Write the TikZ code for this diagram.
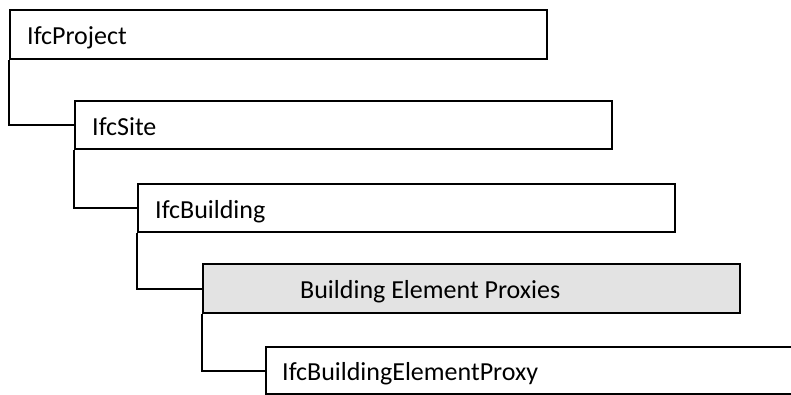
\documentclass[tikz,border=0pt]{standalone}
\usepackage{fontspec}
\setmainfont{Carlito}
\begin{document}
\begin{tikzpicture}[x=1pt,y=-1pt,
  box/.style={draw=black, line width=2.2pt, anchor=north west,
    minimum width=537pt, minimum height=48pt, inner sep=0pt, fill=white},
  lbl/.style={anchor=base west, inner sep=0pt,
    font=\fontsize{26}{30}\selectfont},
  link/.style={draw=black, line width=2.2pt}]
\useasboundingbox (0,0) rectangle (791,394);
\clip (0,0) rectangle (791,394);

% hierarchy boxes
\node[box, minimum height=49pt] (prj) at (9,9) {};
\node[box] (site) at (74,100) {};
\node[box] (bldg) at (137,183) {};
\node[box, fill=gray!22, minimum height=49pt] (grp) at (202,263) {};
\node[box, minimum height=47pt] (prx) at (265,346) {};

% labels
\node[lbl] (tprj) at ([xshift=18pt,yshift=-10pt]prj.west) {IfcProject};
\node[lbl] (tsite) at ([xshift=18pt,yshift=-10pt]site.west) {IfcSite};
\node[lbl] (tbldg) at ([xshift=18pt,yshift=-10pt]bldg.west) {IfcBuilding};
\node[lbl] (tgrp) at ([xshift=98pt,yshift=-10pt]grp.west) {Building Element Proxies};
\node[lbl] (tprx) at ([xshift=17pt,yshift=-10pt]prx.west) {IfcBuildingElementProxy};

% parent-child connectors
\draw[link] (prj.south west) |- (site.west);
\draw[link] (site.south west) |- (bldg.west);
\draw[link] (bldg.south west) |- (grp.west);
\draw[link] (grp.south west) |- (prx.west);
\end{tikzpicture}
\end{document}
